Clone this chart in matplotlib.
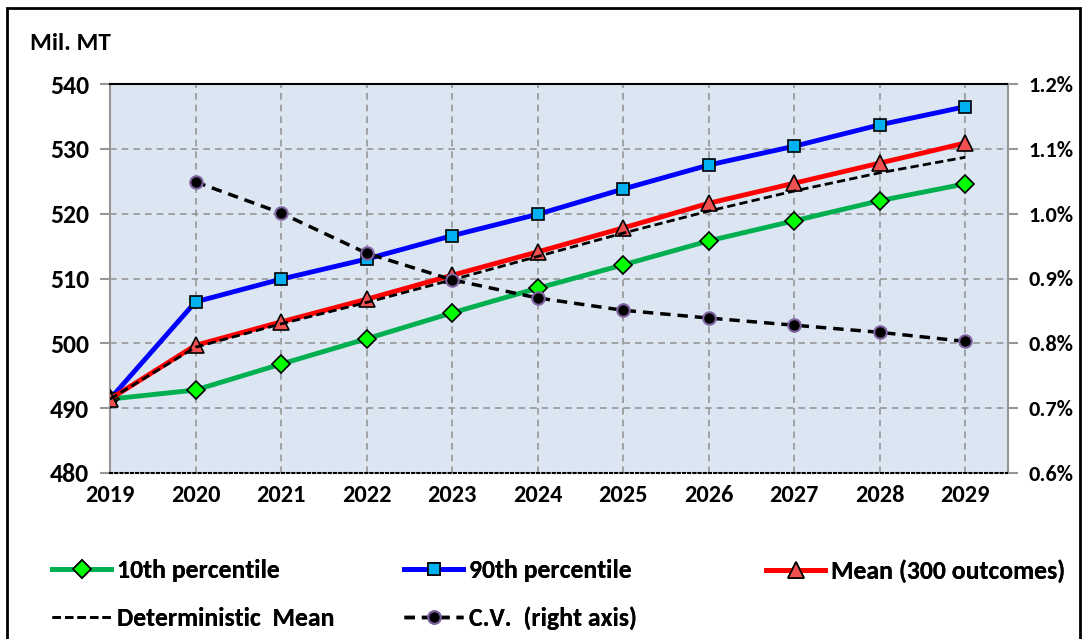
import matplotlib
matplotlib.use("Agg")
import matplotlib.pyplot as plt
from matplotlib.patches import Rectangle
from matplotlib.ticker import FuncFormatter

years = [2019, 2020, 2021, 2022, 2023, 2024, 2025, 2026, 2027, 2028, 2029]
p10 = [491.4, 492.8, 496.8, 500.7, 504.7, 508.5, 512.1, 515.8, 518.9, 522.0, 524.6]
p90 = [491.4, 506.4, 509.9, 513.0, 516.6, 519.9, 523.8, 527.5, 530.4, 533.7, 536.5]
mean300 = [491.4, 499.7, 503.3, 506.8, 510.5, 514.1, 517.8, 521.6, 524.7, 527.8, 530.9]
det_mean = [491.4, 499.4, 503.0, 506.3, 509.8, 513.4, 517.0, 520.4, 523.5, 526.3, 528.7]
cv_years = [2020, 2021, 2022, 2023, 2024, 2025, 2026, 2027, 2028, 2029]
cv = [1.049, 1.001, 0.939, 0.898, 0.870, 0.851, 0.839, 0.828, 0.817, 0.803]

plt.rcParams['font.family'] = ['Carlito', 'Lato', 'DejaVu Sans']
plt.rcParams['font.weight'] = 'bold'

fig = plt.figure(figsize=(10.88, 6.39), dpi=100)
W, H = 1088, 639
ax = fig.add_axes([110 / W, 1 - 473 / H, (1008 - 110) / W, (473 - 84) / H])
ax.set_facecolor('#DCE6F2')

ax.plot(years, p10, color='#00B050', lw=3.5, marker='D', ms=9, mfc='#00FF00', mec='black', mew=1.2, zorder=4, label='10th percentile')
ax.plot(years, p90, color='#0000FF', lw=3.5, marker='s', ms=9, mfc='#00B0F0', mec='black', mew=1.2, zorder=4, label='90th percentile')
ax.plot(years, mean300, color='#FF0000', lw=3.5, marker='^', ms=12, mfc='#F05050', mec='black', mew=1.2, zorder=4, label='Mean (300 outcomes)')
ax.plot(years, det_mean, color='black', lw=2, ls=(0, (3, 1.5)), zorder=5, label='Deterministic  Mean')

ax.set_xlim(2019, 2029.5)
ax.set_ylim(480, 540)
ax.set_xticks(years)
ax.set_yticks(range(480, 541, 10))
ax.grid(True, color='#969696', ls=(0, (4, 3)), lw=1.2)
ax.set_axisbelow(True)
for s in ['left', 'right']:
    ax.spines[s].set_color('#969696')
    ax.spines[s].set_linewidth(1.5)
ax.spines['top'].set_color('black')
ax.spines['top'].set_linewidth(1.5)
ax.spines['bottom'].set_color('black')
ax.spines['bottom'].set_linestyle((0, (1, 1.5)))
ax.spines['bottom'].set_linewidth(1.5)
ax.tick_params(axis='y', colors='#969696', labelcolor='black', length=7, width=1.5, labelsize=18.5, pad=8)
ax.tick_params(axis='x', length=0, labelsize=17.5, pad=9)
for t in ax.get_xticklabels() + ax.get_yticklabels():
    t.set_fontweight('heavy')

ax2 = ax.twinx()
ax2.plot(cv_years, cv, color='black', lw=2.5, ls=(0, (3, 2)), marker='o', ms=9, mfc='black', mec='#8064A2', mew=1.5, zorder=6, label='C.V.  (right axis)')
ax2.set_ylim(0.6, 1.2)
ax2.set_yticks([0.6, 0.7, 0.8, 0.9, 1.0, 1.1, 1.2])
ax2.yaxis.set_major_formatter(FuncFormatter(lambda v, p: f"{v:.1f}%"))
ax2.tick_params(axis='y', colors='#969696', labelcolor='black', length=7, width=1.5, labelsize=16, pad=8)
for t in ax2.get_yticklabels():
    t.set_fontweight('heavy')
for s in ax2.spines.values():
    s.set_visible(False)

fig.text(30 / W, 1 - 44 / H, 'Mil. MT', fontsize=18, fontweight='heavy', va='center', ha='left')

fig.patches.append(Rectangle((7 / W, -0.05), (1080 - 7) / W, 1.05 - 8 / H, transform=fig.transFigure,
                             fill=False, ec='black', lw=2))

h1, l1 = ax.get_legend_handles_labels()
h2, l2 = ax2.get_legend_handles_labels()
cols = [([h1[0], h1[3]], [l1[0], l1[3]], 42),
        ([h1[1], h2[0]], [l1[1], l2[0]], 394),
        ([h1[2]], [l1[2]], 756)]
for hs, ls_, x0 in cols:
    lg = fig.legend(hs, ls_, ncol=1, loc='upper left', bbox_to_anchor=(x0 / W, 1 - 549 / H),
                    frameon=False, fontsize=18.5, handlelength=2.3, handletextpad=0.2,
                    labelspacing=0.95, borderaxespad=0)
    fig.add_artist(lg)

fig.savefig('out.png', dpi=100)
